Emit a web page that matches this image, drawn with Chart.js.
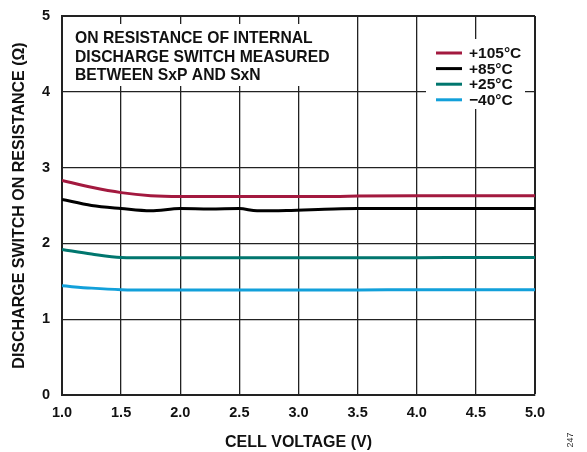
<!DOCTYPE html>
<html>
<head>
<meta charset="utf-8">
<script src="https://cdn.jsdelivr.net/npm/chart.js@4"></script>
<style>
  html, body { margin: 0; padding: 0; background: #fff; }
  #wrap { position: relative; width: 587px; height: 452px; }
</style>
</head>
<body>
<div id="wrap"><canvas id="ron-chart" width="587" height="452"></canvas></div>
<script>
/* on resistance vs cell voltage */
const voltages = [1.0, 1.25, 1.5, 1.75, 2.0, 2.25, 2.5, 2.65, 2.9, 3.3, 3.5, 4.0, 4.5, 5.0];
const r105 = [2.83, 2.74, 2.67, 2.63, 2.62, 2.62, 2.62, 2.62, 2.62, 2.62, 2.625, 2.63, 2.63, 2.63];
const r85  = [2.58, 2.50, 2.46, 2.43, 2.46, 2.455, 2.46, 2.43, 2.435, 2.455, 2.46, 2.46, 2.46, 2.46];
const r25  = [1.92, 1.86, 1.815, 1.81, 1.81, 1.81, 1.81, 1.81, 1.81, 1.81, 1.81, 1.81, 1.815, 1.815];
const rM40 = [1.44, 1.41, 1.39, 1.385, 1.385, 1.385, 1.385, 1.385, 1.385, 1.385, 1.385, 1.39, 1.39, 1.39];

const seriesLabels = ['+105°C', '+85°C', '+25°C', '\u221240°C'];
const seriesColors = ['#a3193f', '#000000', '#00766e', '#12a0da'];
const xTicks = [1.0, 1.5, 2.0, 2.5, 3.0, 3.5, 4.0, 4.5, 5.0];
const yTicks = [0, 1, 2, 3, 4, 5];
const noteLines = ['ON RESISTANCE OF INTERNAL', 'DISCHARGE SWITCH MEASURED', 'BETWEEN SxP AND SxN'];

const toPoints = arr => arr.map((v, i) => ({ x: voltages[i], y: v }));
const allSeries = [r105, r85, r25, rM40];

const FONT = "'Liberation Sans', Arial, sans-serif";

// white boxes with note text and legend, on top of the grid
const boxPlugin = {
  id: 'boxes',
  beforeDatasetsDraw(chart) {
    const ctx = chart.ctx;
    ctx.save();
    ctx.fillStyle = '#fff';
    ctx.fillRect(64, 24, 292, 62);
    ctx.fillRect(426, 39, 99, 70);
    ctx.fillStyle = '#111';
    ctx.font = 'bold 15.7px ' + FONT;
    ctx.textBaseline = 'middle';
    noteLines.forEach((t, i) => ctx.fillText(t, 75, 39 + i * 18.3));
    ctx.font = 'bold 15.5px ' + FONT;
    seriesLabels.forEach((t, i) => {
      const y = 53 + i * 15.6;
      ctx.strokeStyle = seriesColors[i];
      ctx.lineWidth = 3;
      ctx.beginPath();
      ctx.moveTo(436, y);
      ctx.lineTo(462, y);
      ctx.stroke();
      ctx.fillStyle = '#111';
      ctx.fillText(t, 469, y + 1);
    });
    ctx.restore();
  },
  afterDraw(chart) {
    const ctx = chart.ctx;
    ctx.save();
    ctx.translate(571, 440);
    ctx.rotate(-Math.PI / 2);
    ctx.font = '9px ' + FONT;
    ctx.fillStyle = '#333';
    ctx.textAlign = 'center';
    ctx.textBaseline = 'middle';
    ctx.fillText('247', 0, 0);
    ctx.restore();
  }
};

const config = {
  type: 'line',
  data: {
    datasets: allSeries.map((s, i) => ({
      label: seriesLabels[i],
      data: toPoints(s),
      borderColor: seriesColors[i],
      backgroundColor: seriesColors[i],
      borderWidth: 3,
      pointRadius: 0,
      cubicInterpolationMode: 'monotone',
      fill: false
    }))
  },
  options: {
    responsive: false,
    animation: false,
    layout: { padding: { top: 16, right: 52, left: 0, bottom: 0 } },
    plugins: {
      legend: { display: false },
      tooltip: { enabled: false }
    },
    scales: {
      x: {
        type: 'linear',
        min: 1,
        max: 5,
        afterBuildTicks: s => { s.ticks = xTicks.map(v => ({ value: v })); },
        afterFit: s => { s.height = 57; s.paddingLeft = 0; s.paddingRight = 0; },
        ticks: {
          color: '#111',
          font: { family: FONT, size: 14.5, weight: 'bold' },
          padding: 9,
          callback: v => v.toFixed(1)
        },
        grid: {
          color: '#222',
          lineWidth: c => (c.tick && c.tick.value === 5 ? 2 : 1.3),
          drawTicks: false
        },
        border: { color: '#222', width: 2 },
        title: {
          display: true,
          text: 'CELL VOLTAGE (V)',
          color: '#111',
          font: { family: FONT, size: 16, weight: 'bold' },
          padding: { top: 1, bottom: 0 }
        }
      },
      y: {
        min: 0,
        max: 5,
        afterBuildTicks: s => { s.ticks = yTicks.map(v => ({ value: v })); },
        afterFit: s => { s.width = 62; s.paddingTop = 0; s.paddingBottom = 0; },
        ticks: {
          color: '#111',
          font: { family: FONT, size: 14.5, weight: 'bold' },
          padding: 12
        },
        grid: {
          color: '#222',
          lineWidth: c => (c.tick && c.tick.value === 5 ? 2 : 1.3),
          drawTicks: false
        },
        border: { color: '#222', width: 2 },
        title: {
          display: true,
          text: 'DISCHARGE SWITCH ON RESISTANCE (Ω)',
          color: '#111',
          font: { family: FONT, size: 16, weight: 'bold' },
          padding: { top: 10, bottom: 0 }
        }
      }
    }
  },
  plugins: [boxPlugin]
};

const ronChart = new Chart(document.getElementById('ron-chart'), config);
</script>
</body>
</html>
